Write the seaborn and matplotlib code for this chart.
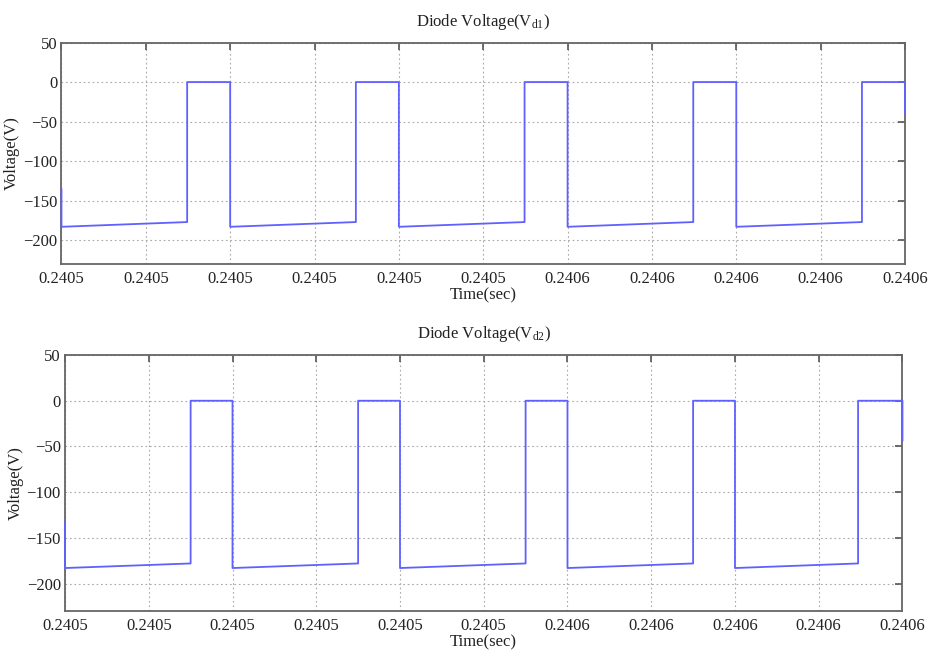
import matplotlib
matplotlib.use("Agg")
import matplotlib.pyplot as plt
import seaborn as sns
import pandas as pd

# ---- data ----
t_vd1 = [0.24050, 0.24050, 0.2405149, 0.2405149, 0.24052, 0.24052,
         0.2405349, 0.2405349, 0.24054, 0.24054, 0.2405549, 0.2405549,
         0.24056, 0.24056, 0.2405749, 0.2405749, 0.24058, 0.24058,
         0.2405949, 0.2405949, 0.24060, 0.24060]
v_vd1 = [-135, -183, -177, 0, 0, -183,
         -177, 0, 0, -183, -177, 0,
         0, -183, -177, 0, 0, -183,
         -177, 0, 0, -40]

t_vd2 = [0.24050, 0.24050, 0.2405150, 0.2405150, 0.24052, 0.24052,
         0.2405350, 0.2405350, 0.24054, 0.24054, 0.2405550, 0.2405550,
         0.24056, 0.24056, 0.2405750, 0.2405750, 0.24058, 0.24058,
         0.2405947, 0.2405947, 0.24060, 0.24060]
v_vd2 = [-132, -183, -178, 0, 0, -183,
         -178, 0, 0, -183, -178, 0,
         0, -183, -178, 0, 0, -183,
         -178, 0, 0, -44]

x_ticks = [0.24050, 0.24051, 0.24052, 0.24053, 0.24054, 0.24055,
           0.24056, 0.24057, 0.24058, 0.24059, 0.24060]
x_tick_labels = ["0.2405", "0.2405", "0.2405", "0.2405", "0.2405", "0.2405",
                 "0.2406", "0.2406", "0.2406", "0.2406", "0.2406"]
y_ticks = [50, 0, -50, -100, -150, -200]
titles = [r"Diode Voltage(V$_{\mathrm{d1}}$)", r"Diode Voltage(V$_{\mathrm{d2}}$)"]
x_label = "Time(sec)"
y_label = "Voltage(V)"

sns.set_style("white")
plt.rcParams["font.family"] = ["Liberation Serif", "DejaVu Serif"]
plt.rcParams["mathtext.fontset"] = "custom"
plt.rcParams["mathtext.rm"] = "Liberation Serif"
plt.rcParams["mathtext.it"] = "Liberation Serif:italic"

fig = plt.figure(figsize=(9.30, 6.56), dpi=100)
ax1 = fig.add_axes([0.0661, 0.5976, 0.9731 - 0.0661, 0.9352 - 0.5976])
ax2 = fig.add_axes([0.0699, 0.0686, 0.9704 - 0.0699, 0.4588 - 0.0686])

series = [(t_vd1, v_vd1), (t_vd2, v_vd2)]
for ax, (tt, vv), title in zip([ax1, ax2], series, titles):
    df = pd.DataFrame({"t": tt, "v": vv})
    sns.lineplot(data=df, x="t", y="v", ax=ax, sort=False, estimator=None,
                 color="#6060ff", linewidth=1.3)
    for ln in ax.lines:
        ln.set_clip_on(False)
        ln.set_zorder(3)
    ax.set_xlim(0.24050, 0.24060)
    ax.set_ylim(-230, 50)
    ax.set_xticks(x_ticks)
    ax.set_xticklabels(x_tick_labels)
    ax.set_yticks(y_ticks)
    ax.grid(True, linestyle=(0, (1.5, 2.5)), color="#a8a8a8", linewidth=0.8)
    ax.tick_params(axis="both", direction="in", length=5, width=1.2,
                   color="#555555", labelsize=12, labelcolor="#222222",
                   top=True, right=True)
    ax.tick_params(axis="x", pad=5)
    ax.tick_params(axis="y", pad=3)
    for s in ax.spines.values():
        s.set_color("#666666")
        s.set_linewidth(1.3)
        s.set_zorder(2.5)
    ax.set_xlabel(x_label, fontsize=12, labelpad=0, color="#222222")
    ax.set_ylabel(y_label, fontsize=12, labelpad=2, color="#222222")
    ax.set_title(title, fontsize=12, pad=12, color="#222222")

fig.savefig("out.png", dpi=100)
